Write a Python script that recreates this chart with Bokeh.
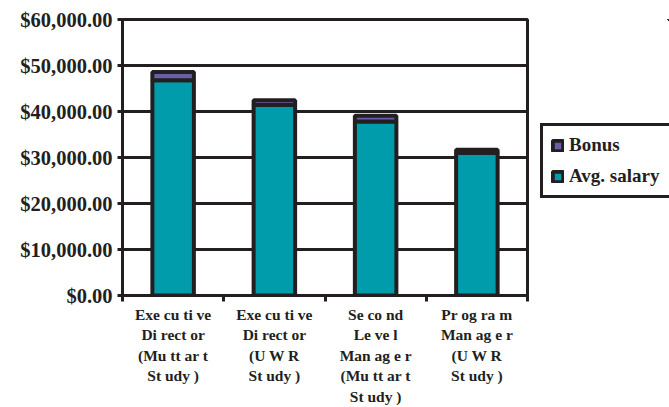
from bokeh.plotting import figure
from bokeh.layouts import row
from bokeh.models import (ColumnDataSource, FixedTicker, NumeralTickFormatter,
                          Legend, LegendItem, Range1d)
from bokeh.embed import file_html
from bokeh.resources import INLINE

categories = [
    "Exe cu ti ve\nDi rect or\n(Mu tt ar t\nSt udy )",
    "Exe cu ti ve\nDi rect or\n(U W R\nSt udy )",
    "Se co nd\nLe ve l\nMan ag e r\n(Mu tt ar t\nSt udy )",
    "Pr og ra m\nMan ag e r\n(U W R\nSt udy )",
]
avg_salary = [46800, 41400, 37850, 31000]
bonus = [1800, 1050, 1250, 700]
y_ticks = [0, 10000, 20000, 30000, 40000, 50000, 60000]
series_names = ["Bonus", "Avg. salary"]

BLACK = "#231F20"
TEAL = "#009CAC"
PURPLE = "#6660A8"
FONT = "Liberation Serif"

xs = [i + 0.5 for i in range(len(categories))]
src = ColumnDataSource(dict(x=xs, salary=avg_salary, bonus=bonus))

p = figure(width=529, height=407, output_backend="svg",
           toolbar_location=None,
           x_range=Range1d(0, len(categories)), y_range=Range1d(0, 60000),
           min_border_left=122, min_border_right=2, min_border_top=19,
           min_border_bottom=111)

rs = p.vbar_stack(["salary", "bonus"], x="x", width=0.41, source=src,
                  fill_color=[TEAL, PURPLE], line_color=BLACK, line_width=4)

p.outline_line_color = BLACK
p.outline_line_width = 3
p.xgrid.grid_line_color = None
p.ygrid.grid_line_color = BLACK
p.ygrid.grid_line_width = 3
p.ygrid.ticker = FixedTicker(ticks=y_ticks)

ya = p.yaxis[0]
ya.ticker = FixedTicker(ticks=y_ticks, minor_ticks=[])
ya.formatter = NumeralTickFormatter(format="$0,0.00")
ya.axis_line_color = BLACK
ya.axis_line_width = 3
ya.major_tick_line_color = BLACK
ya.major_tick_line_width = 3
ya.major_tick_in = 0
ya.major_tick_out = 5
ya.major_label_standoff = 5
ya.major_label_text_font = FONT
ya.major_label_text_font_style = "bold"
ya.major_label_text_font_size = "20.5px"
ya.major_label_text_color = BLACK

xa = p.xaxis[0]
xa.ticker = FixedTicker(ticks=xs, minor_ticks=list(range(len(categories) + 1)))
xa.major_label_overrides = {x: c for x, c in zip(xs, categories)}
xa.axis_line_color = BLACK
xa.axis_line_width = 3
xa.major_tick_line_color = None
xa.minor_tick_line_color = BLACK
xa.minor_tick_line_width = 3
xa.minor_tick_in = 0
xa.minor_tick_out = 6
xa.major_label_standoff = 4
xa.major_label_text_font = FONT
xa.major_label_text_font_style = "bold"
xa.major_label_text_font_size = "15.5px"
xa.major_label_text_color = BLACK
xa.major_label_text_line_height = 1.21

# legend panel: same series drawn outside its ranges so only the legend shows
lp = figure(width=140, height=407, output_backend="svg",
            toolbar_location=None, x_axis_location=None, y_axis_location=None,
            x_range=Range1d(-20, -10), y_range=Range1d(-20, -10), min_border=0)
lp.grid.grid_line_color = None
lp.outline_line_color = None
lrs = lp.vbar_stack(["salary", "bonus"], x="x", width=0.41, source=src,
                    fill_color=[TEAL, PURPLE], line_color=BLACK, line_width=4)

legend = Legend(items=[LegendItem(label=series_names[0], renderers=[lrs[1]]),
                       LegendItem(label=series_names[1], renderers=[lrs[0]])],
                location=(11, 97))
legend.label_text_font = FONT
legend.label_text_font_style = "bold"
legend.label_text_font_size = "19px"
legend.label_text_color = BLACK
legend.label_height = 22
legend.label_width = 110
legend.glyph_width = 13
legend.glyph_height = 13
legend.spacing = 9
legend.padding = 8
legend.margin = 0
legend.label_standoff = 5
legend.border_line_color = BLACK
legend.border_line_alpha = 1.0
legend.border_line_width = 3.5
legend.background_fill_color = "white"
lp.add_layout(legend, "center")

layout = row(p, lp, spacing=0)
open("out.html", "w").write(file_html(layout, INLINE))
